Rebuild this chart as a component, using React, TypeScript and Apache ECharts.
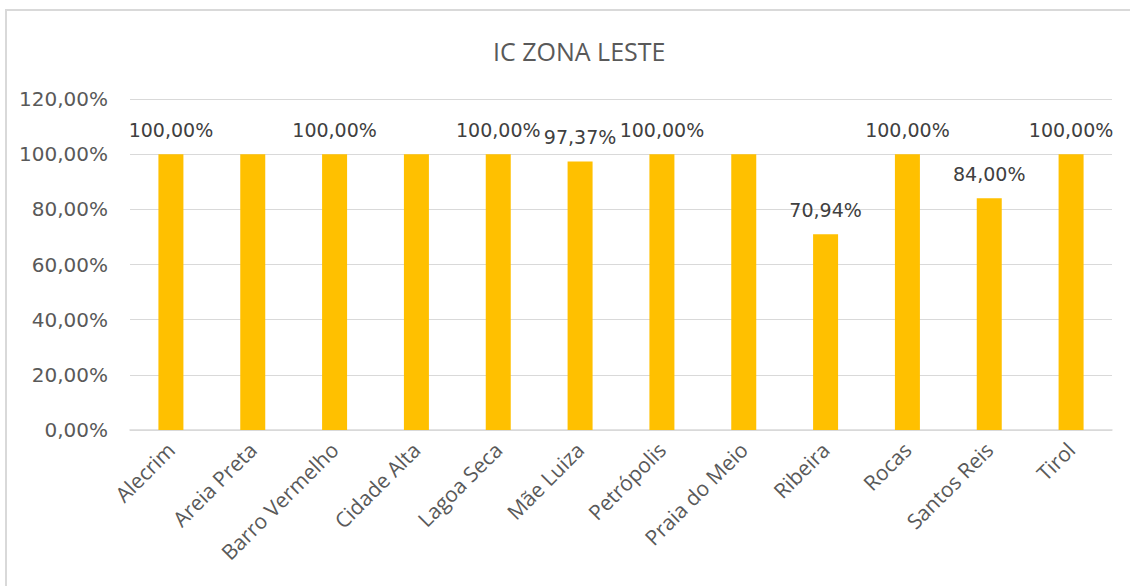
import React, { useEffect, useRef } from "react";
import * as echarts from "echarts";

const title = "IC ZONA LESTE";
const categories = [
  "Alecrim",
  "Areia Preta",
  "Barro Vermelho",
  "Cidade Alta",
  "Lagoa Seca",
  "Mãe Luiza",
  "Petrópolis",
  "Praia do Meio",
  "Ribeira",
  "Rocas",
  "Santos Reis",
  "Tirol",
];
const values = [100, 100, 100, 100, 100, 97.37, 100, 100, 70.94, 100, 84, 100];
const labelShown = [true, false, true, false, true, true, true, false, true, true, true, true];
const yTicks = { min: 0, max: 120, interval: 20 };

const fmt = (v: number) => v.toFixed(2).replace(".", ",") + "%";

export default function App() {
  const ref = useRef<HTMLDivElement>(null);
  useEffect(() => {
    document.body.style.margin = "0";
    const chart = echarts.init(ref.current!, undefined, { renderer: "svg" });
    const font = "Open Sans";
    chart.setOption({
      animation: false,
      backgroundColor: "#ffffff",
      title: {
        text: title,
        left: 488,
        top: 33,
        textStyle: { fontFamily: font, fontSize: 25, fontWeight: "normal", color: "#595959" },
      },
      graphic: [
        {
          type: "rect",
          shape: { x: 6, y: 10, width: 1140, height: 600 },
          style: { fill: "none", stroke: "#d9d9d9", lineWidth: 2 },
          z: -1,
        },
      ],
      grid: { left: 130, right: 18, top: 99, bottom: 156, containLabel: false },
      xAxis: {
        type: "category",
        data: categories,
        axisTick: { show: false },
        axisLine: { lineStyle: { color: "#d9d9d9", width: 1.5 } },
        axisLabel: {
          rotate: 45,
          interval: 0,
          margin: 16,
          fontFamily: font,
          fontSize: 21,
          color: "#595959",
        },
      },
      yAxis: {
        type: "value",
        min: yTicks.min,
        max: yTicks.max,
        interval: yTicks.interval,
        axisLine: { show: false },
        axisTick: { show: false },
        splitLine: { lineStyle: { color: "#d9d9d9", width: 1.2 } },
        axisLabel: {
          margin: 22,
          fontFamily: "DejaVu Sans",
          fontSize: 20,
          color: "#595959",
          formatter: (v: number) => fmt(v),
        },
      },
      series: [
        {
          type: "bar",
          barWidth: 25,
          itemStyle: { color: "#FFC000" },
          data: values.map((v, i) => ({
            value: v,
            label: { show: labelShown[i] },
          })),
          label: {
            position: "top",
            distance: 15,
            fontFamily: "DejaVu Sans",
            fontSize: 19,
            color: "#404040",
            formatter: (p: any) => fmt(p.value),
          },
        },
      ],
    });
    return () => chart.dispose();
  }, []);
  return <div ref={ref} style={{ width: 1130, height: 586 }} />;
}
